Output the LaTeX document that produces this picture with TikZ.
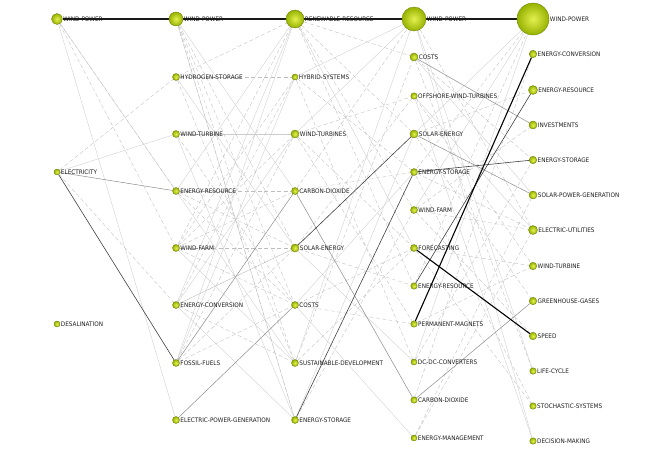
\documentclass[tikz,border=0pt]{standalone}
\usepackage{fontspec}
\setmainfont{DejaVu Sans}[FakeStretch=0.92]
\pgfdeclarelayer{bg}
\pgfsetlayers{bg,main}
\definecolor{nodein}{RGB}{228,240,80}
\definecolor{nodeout}{RGB}{150,178,0}
\definecolor{noderim}{RGB}{105,125,0}
\definecolor{txt}{RGB}{30,30,30}
\tikzset{
 vtx/.style={circle, inner sep=0pt, draw=noderim, line width=0.35pt, inner color=nodein, outer color=nodeout},
 lab/.style={anchor=west, inner sep=0.6pt, text=txt, font=\fontsize{6.2}{7}\selectfont},
 lite/.style={draw=black!20, line width=0.35pt},
 dsh/.style={draw=black!26, line width=0.35pt, dash pattern=on 4pt off 2.5pt},
 midl/.style={draw=black!45, line width=0.5pt},
 drk/.style={draw=black!75, line width=0.6pt},
 thk/.style={draw=black, line width=1.1pt},
 topl/.style={draw=black!90, line width=1.4pt},
}
\newcommand{\vtx}[5]{\node[vtx, minimum size=#4pt] (#1) at (#2,#3) {}; \node[lab] (#1-l) at (#1.east) {#5};}
\begin{document}
\begin{tikzpicture}[x=1pt,y=-1pt]
\useasboundingbox (0,0) rectangle (650,452);
% column 1
\vtx{a-wp}{57}{19}{11}{WIND-POWER}
\vtx{a-el}{57}{172}{6}{ELECTRICITY}
\vtx{a-de}{57}{324}{6}{DESALINATION}
% column 2
\vtx{b-wp}{176}{19}{14}{WIND-POWER}
\vtx{b-hs}{176}{77}{7}{HYDROGEN-STORAGE}
\vtx{b-wt}{176}{134}{7}{WIND-TURBINE}
\vtx{b-er}{176}{191}{7}{ENERGY-RESOURCE}
\vtx{b-wf}{176}{248}{7}{WIND-FARM}
\vtx{b-ec}{176}{305}{7}{ENERGY-CONVERSION}
\vtx{b-ff}{176}{363}{7}{FOSSIL-FUELS}
\vtx{b-epg}{176}{420}{7}{ELECTRIC-POWER-GENERATION}
% column 3
\vtx{c-rr}{295}{19}{18}{RENEWABLE-RESOURCE}
\vtx{c-hy}{295}{77}{6}{HYBRID-SYSTEMS}
\vtx{c-wt}{295}{134}{8}{WIND-TURBINES}
\vtx{c-cd}{295}{191}{7}{CARBON-DIOXIDE}
\vtx{c-se}{295}{248}{8}{SOLAR-ENERGY}
\vtx{c-co}{295}{305}{7}{COSTS}
\vtx{c-sd}{295}{363}{7}{SUSTAINABLE-DEVELOPMENT}
\vtx{c-es}{295}{420}{7}{ENERGY-STORAGE}
% column 4
\vtx{d-wp}{414}{19}{24}{WIND-POWER}
\vtx{d-co}{414}{57}{8}{COSTS}
\vtx{d-ow}{414}{96}{6.5}{OFFSHORE-WIND-TURBINES}
\vtx{d-se}{414}{134}{8}{SOLAR-ENERGY}
\vtx{d-es}{414}{172}{7}{ENERGY-STORAGE}
\vtx{d-wf}{414}{210}{7}{WIND-FARM}
\vtx{d-fc}{414}{248}{7}{FORECASTING}
\vtx{d-er}{414}{286}{6.5}{ENERGY-RESOURCE}
\vtx{d-pm}{414}{324}{6.5}{PERMANENT-MAGNETS}
\vtx{d-dc}{414}{362}{6}{DC-DC-CONVERTERS}
\vtx{d-cd}{414}{400}{6.5}{CARBON-DIOXIDE}
\vtx{d-em}{414}{438}{6}{ENERGY-MANAGEMENT}
% column 5
\vtx{e-wp}{533}{19}{32}{WIND-POWER}
\vtx{e-ec}{533}{54}{7.5}{ENERGY-CONVERSION}
\vtx{e-er}{533}{90}{9}{ENERGY-RESOURCE}
\vtx{e-in}{533}{125}{8}{INVESTMENTS}
\vtx{e-es}{533}{160}{7.5}{ENERGY-STORAGE}
\vtx{e-spg}{533}{195}{8}{SOLAR-POWER-GENERATION}
\vtx{e-eu}{533}{230}{9}{ELECTRIC-UTILITIES}
\vtx{e-wt}{533}{266}{7.5}{WIND-TURBINE}
\vtx{e-gh}{533}{301}{7.5}{GREENHOUSE-GASES}
\vtx{e-sp}{533}{336}{7.5}{SPEED}
\vtx{e-lc}{533}{371}{6.5}{LIFE-CYCLE}
\vtx{e-ss}{533}{406}{6.5}{STOCHASTIC-SYSTEMS}
\vtx{e-dm}{533}{441}{6.5}{DECISION-MAKING}

\begin{pgfonlayer}{bg}
% faint edges, column 1 -> 2
\draw[lite] (a-wp) -- (b-epg);
\draw[dsh] (a-wp) -- (b-er);
\draw[lite] (a-wp) -- (b-er);
\draw[dsh] (a-wp) -- (b-wf);
\draw[dsh] (a-el) -- (b-hs);
\draw[dsh] (a-el) -- (b-ec);
\draw[lite] (a-el) -- (b-wt);
% column 2 -> 3
\draw[dsh] (b-hs) -- (c-rr);
\draw[dsh] (b-hs) -- (c-hy);
\draw[lite] (b-hs) -- (c-se);
\draw[dsh] (b-hs) -- (c-sd);
\draw[lite] (b-wt) -- (c-wt);
\draw[dsh] (b-wt) -- (c-co);
\draw[lite] (b-wt) -- (c-es);
\draw[dsh] (b-er) -- (c-cd);
\draw[lite] (b-er) -- (c-rr);
\draw[dsh] (b-er) -- (c-se);
\draw[dsh] (b-er) -- (c-co);
\draw[lite] (b-er) -- (c-sd);
\draw[dsh] (b-wf) -- (c-se);
\draw[dsh] (b-wf) -- (c-co);
\draw[lite] (b-wf) -- (c-sd);
\draw[dsh] (b-wf) -- (c-hy);
\draw[dsh] (b-wf) -- (c-wt);
\draw[dsh] (b-ec) -- (c-sd);
\draw[lite] (b-ec) -- (c-es);
\draw[lite] (b-ec) -- (c-wt);
\draw[dsh] (b-ec) -- (c-se);
\draw[dsh] (b-ff) -- (c-co);
\draw[dsh] (b-ff) -- (c-se);
\draw[lite] (b-ff) -- (c-hy);
\draw[dsh] (b-wp) -- (c-sd);
\draw[lite] (b-wp) -- (c-es);
\draw[dsh] (b-wp) -- (c-co);
\draw[dsh] (b-wp) -- (c-se);
\draw[lite] (b-wp) -- (c-cd);
\draw[dsh] (b-wp) -- (c-es);
\draw[lite] (c-rr) -- (b-ec);
\draw[dsh] (c-rr) -- (b-wf);
\draw[lite] (c-rr) -- (b-ff);
\draw[dsh] (c-hy) -- (b-ec);
\draw[dsh] (c-wt) -- (b-ff);
\draw[dsh] (c-cd) -- (b-wf);
\draw[dsh] (c-se) -- (b-ec);
% column 3 -> 4
\draw[dsh] (c-rr) -- (d-co);
\draw[dsh] (c-rr) -- (d-se);
\draw[dsh] (c-rr) -- (d-wf);
\draw[lite] (c-rr) -- (d-fc);
\draw[dsh] (c-rr) -- (d-er);
\draw[lite] (c-hy) -- (d-wp);
\draw[dsh] (c-hy) -- (d-es);
\draw[dsh] (c-hy) -- (d-dc);
\draw[lite] (c-wt) -- (d-wp);
\draw[dsh] (c-wt) -- (d-ow);
\draw[dsh] (c-wt) -- (d-pm);
\draw[dsh] (c-wt) -- (d-fc);
\draw[dsh] (c-cd) -- (d-wp);
\draw[dsh] (c-cd) -- (d-es);
\draw[dsh] (c-se) -- (d-er);
\draw[dsh] (c-se) -- (d-ow);
\draw[lite] (c-se) -- (d-dc);
\draw[dsh] (c-co) -- (d-pm);
\draw[dsh] (c-co) -- (d-fc);
\draw[lite] (c-co) -- (d-es);
\draw[lite] (c-co) -- (d-em);
\draw[lite] (c-sd) -- (d-wp);
\draw[dsh] (c-sd) -- (d-fc);
\draw[dsh] (c-sd) -- (d-co);
\draw[dsh] (c-es) -- (d-wf);
\draw[lite] (c-es) -- (d-se);
% column 4 -> 5
\draw[lite] (d-co) -- (e-spg);
\draw[dsh] (d-co) -- (e-es);
\draw[dsh] (d-co) -- (e-lc);
\draw[dsh] (d-ow) -- (e-wt);
\draw[lite] (d-ow) -- (e-eu);
\draw[lite] (d-ow) -- (e-dm);
\draw[dsh] (d-se) -- (e-er);
\draw[dsh] (d-se) -- (e-gh);
\draw[dsh] (d-es) -- (e-eu);
\draw[dsh] (d-es) -- (e-ss);
\draw[dsh] (d-wf) -- (e-eu);
\draw[dsh] (d-wf) -- (e-sp);
\draw[dsh] (d-wf) -- (e-in);
\draw[lite] (d-wf) -- (e-wp);
\draw[dsh] (d-fc) -- (e-ss);
\draw[dsh] (d-fc) -- (e-wt);
\draw[dsh] (d-er) -- (e-wp);
\draw[dsh] (d-pm) -- (e-wt);
\draw[dsh] (d-dc) -- (e-es);
\draw[lite] (d-dc) -- (e-wp);
\draw[dsh] (d-cd) -- (e-ec);
\draw[dsh] (d-em) -- (e-spg);
\draw[dsh] (d-em) -- (e-eu);
\draw[lite] (d-wp) -- (e-dm);
\draw[lite] (d-wp) -- (e-lc);
\draw[dsh] (d-wp) -- (e-eu);
\draw[dsh] (e-wp) -- (d-es);
\draw[lite] (e-wp) -- (d-se);
% stronger edges
\draw[midl] (a-el) -- (b-er);
\draw[drk] (a-el) -- (b-ff);
\draw[midl] (b-ff) -- (c-cd);
\draw[midl] (b-epg) -- (c-co);
\draw[midl] (c-cd) -- (d-cd);
\draw[drk] (c-se) -- (d-se);
\draw[drk] (c-es) -- (d-es);
\draw[drk] (d-es) -- (e-es);
\draw[midl] (d-co) -- (e-in);
\draw[midl] (d-se) -- (e-spg);
\draw[midl] (d-cd) -- (e-gh);
\draw[drk] (d-er) -- (e-er);
\draw[thk] (d-pm) -- (e-ec);
\draw[thk] (d-fc) -- (e-sp);
% top chain
\draw[topl] (a-wp) -- (b-wp);
\draw[topl] (b-wp) -- (c-rr);
\draw[topl] (c-rr) -- (d-wp);
\draw[topl, line width=2.2pt] (d-wp) -- (e-wp);
\end{pgfonlayer}
\end{tikzpicture}
\end{document}
